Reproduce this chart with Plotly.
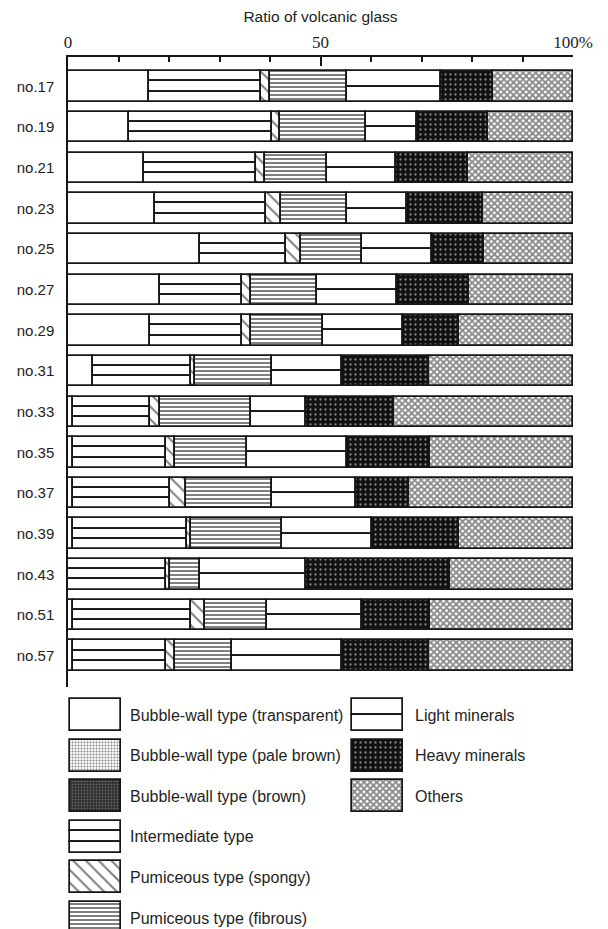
import numpy as np
import plotly.graph_objects as go

# Samples (top to bottom) and composition (%) of each sample
samples = ["no.17", "no.19", "no.21", "no.23", "no.25", "no.27", "no.29", "no.31",
           "no.33", "no.35", "no.37", "no.39", "no.43", "no.51", "no.57"]

bw_transparent = [16.0, 12.0, 15.0, 17.2, 26.1, 18.2, 16.2, 5.0, 1.0, 1.0, 1.0, 1.0, 0.0, 1.0, 1.0]
bw_pale_brown = [0.0] * 15
bw_brown = [0.0] * 15
intermediate = [22.2, 28.3, 22.2, 22.0, 17.1, 16.2, 18.2, 19.3, 15.3, 18.4, 19.2, 22.5, 19.4, 23.3, 18.4]
pum_spongy = [1.8, 1.7, 1.8, 2.9, 2.9, 1.8, 1.8, 0.8, 1.9, 1.8, 3.1, 0.8, 0.8, 2.9, 1.8]
pum_fibrous = [15.2, 17.1, 12.3, 13.1, 12.1, 13.1, 14.2, 15.2, 18.0, 14.2, 17.0, 18.0, 5.9, 12.2, 11.2]
light_minerals = [18.7, 10.0, 13.7, 11.9, 13.9, 15.8, 15.9, 13.9, 11.0, 19.8, 16.8, 17.9, 21.1, 18.8, 21.8]
heavy_minerals = [10.2, 14.1, 14.2, 15.1, 10.2, 14.3, 11.2, 17.2, 17.3, 16.4, 10.4, 17.3, 28.4, 13.4, 17.2]
others = [15.9, 16.8, 20.8, 17.8, 17.7, 20.6, 22.5, 28.6, 35.5, 28.4, 32.5, 22.5, 24.4, 28.4, 28.6]

tick_vals = [0, 50, 100]
tick_text = ["0", "50", "100%"]

INK = "#161616"
LINE_W = 1.7
BAR_W = 0.75
SANS = "Liberation Sans, Arial, sans-serif"
SERIF = "Liberation Serif, DejaVu Serif, serif"

# fill style and number of horizontal subdivisions per component
styles = {
    "Bubble-wall type (transparent)": (dict(color="white"), 1),
    "Bubble-wall type (pale brown)": (dict(color="white", pattern=dict(shape=".", fgcolor="#111", bgcolor="white", size=3, solidity=0.4)), 1),
    "Bubble-wall type (brown)": (dict(color="#333", pattern=dict(shape=".", fgcolor="#999", bgcolor="#2e2e2e", size=3, solidity=0.3)), 1),
    "Intermediate type": (dict(color="white"), 3),
    "Pumiceous type (spongy)": (dict(color="white", pattern=dict(shape="\\", fgcolor="#000", bgcolor="white", size=9, solidity=0.22)), 1),
    "Pumiceous type (fibrous)": (dict(color="white", pattern=dict(shape="-", fgcolor="#000", bgcolor="white", size=4, solidity=0.5)), 1),
    "Light minerals": (dict(color="white"), 2),
    "Heavy minerals": (dict(color=INK, pattern=dict(shape=".", fgcolor="white", bgcolor="#111", size=5, solidity=0.16)), 1),
    "Others": (dict(color="white", pattern=dict(shape="x", fgcolor="#111", bgcolor="white", size=4.5, solidity=0.65)), 1),
}

components = [
    ("Bubble-wall type (transparent)", bw_transparent),
    ("Bubble-wall type (pale brown)", bw_pale_brown),
    ("Bubble-wall type (brown)", bw_brown),
    ("Intermediate type", intermediate),
    ("Pumiceous type (spongy)", pum_spongy),
    ("Pumiceous type (fibrous)", pum_fibrous),
    ("Light minerals", light_minerals),
    ("Heavy minerals", heavy_minerals),
    ("Others", others),
]

fig = go.Figure()


def add_segments(name, ys, starts, lengths, width, xa, ya):
    marker, nsub = styles[name]
    for k in range(nsub):
        m = dict(marker)
        m["line"] = dict(color=INK, width=LINE_W)
        fig.add_trace(go.Bar(
            orientation="h", y=ys, x=lengths, base=starts,
            width=width / nsub, offset=-width / 2 + k * width / nsub,
            marker=m, xaxis=xa, yaxis=ya, showlegend=False, hoverinfo="skip",
        ))


# stacked composition bars
cum = np.zeros(len(samples))
for name, vals in components:
    v = np.array(vals, dtype=float)
    keep = v > 0
    if keep.any():
        add_segments(name, [s for s, kp in zip(samples, keep) if kp],
                     cum[keep].tolist(), v[keep].tolist(), BAR_W, "x", "y")
    cum += v

# key: swatches in two columns
key_col1 = [c[0] for c in components[:6]]
key_col2 = [c[0] for c in components[6:]]
SW_W = 0.79
col_specs = [(key_col1, 0.4, 10.0, 11.9), (key_col2, 56.3, 10.1, 68.4)]
for names, x0, length, tx in col_specs:
    for i, name in enumerate(names):
        add_segments(name, [i], [x0], [length], SW_W, "x2", "y2")
        fig.add_annotation(x=tx, y=i, xref="x2", yref="y2", text=name, showarrow=False,
                           xanchor="left", yanchor="middle",
                           font=dict(family=SANS, size=16, color="#1e1e1e"))

H = 929
T = 57
plot_h = H - T
y1_bottom = (H - 687) / plot_h
y2_top = (H - 690) / plot_h

fig.update_layout(
    width=608, height=H,
    margin=dict(l=68, r=35, t=T, b=0),
    paper_bgcolor="white", plot_bgcolor="white",
    barmode="overlay", bargap=0,
    title=dict(text="Ratio of volcanic glass", x=0.5, xanchor="center", xref="paper",
               y=1 - 17 / H, yref="container", yanchor="middle",
               font=dict(family=SANS, size=15.5, color="#1e1e1e")),
    xaxis=dict(
        domain=[0, 1], range=[0, 100], side="top", anchor="y",
        showline=True, linecolor=INK, linewidth=1.5, showgrid=False, zeroline=False,
        tickmode="array", tickvals=tick_vals, ticktext=tick_text,
        ticks="inside", ticklen=9, tickwidth=1.5, tickcolor=INK,
        minor=dict(dtick=10, tick0=0, ticks="inside", ticklen=5, tickwidth=1.5, tickcolor=INK),
        tickfont=dict(family=SERIF, size=17, color="#1e1e1e"),
        fixedrange=True,
    ),
    yaxis=dict(
        domain=[y1_bottom, 1], type="category", categoryorder="array", categoryarray=samples,
        range=[14.77, -0.727], anchor="x",
        showline=True, linecolor=INK, linewidth=1.5, showgrid=False, zeroline=False,
        ticks="outside", ticklen=9, tickcolor="rgba(0,0,0,0)",
        tickfont=dict(family=SANS, size=15, color="#1e1e1e"),
        fixedrange=True,
    ),
    xaxis2=dict(domain=[0, 1], range=[0, 100], anchor="y2", visible=False, fixedrange=True),
    yaxis2=dict(domain=[0, y2_top], range=[5.271, -0.616], anchor="x2", visible=False, fixedrange=True),
)

fig.write_html("out.html")
